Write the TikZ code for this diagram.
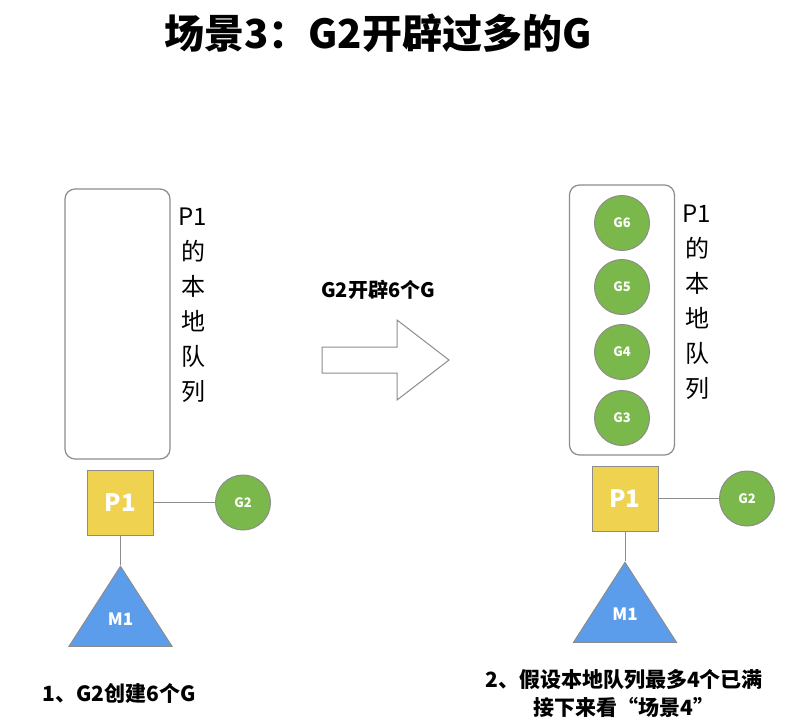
\documentclass[tikz,border=0pt]{standalone}
\usepackage{fontspec}
\setmainfont{Noto Sans CJK SC}
\usetikzlibrary{shapes.geometric,positioning}

\definecolor{pyellow}{HTML}{EFD24F}
\definecolor{ggreen}{HTML}{7BB84B}
\definecolor{mblue}{HTML}{5C9DEB}
\definecolor{edgegray}{HTML}{8C8C8C}

\tikzset{
  queue/.style={draw=edgegray, rectangle, rounded corners=10pt, minimum width=105pt, minimum height=270pt, line width=1.2pt},
  qlabel/.style={align=center, font=\fontsize{24}{35}\selectfont},
  pbox/.style={draw=edgegray, fill=pyellow, rectangle, minimum width=66pt, minimum height=65pt, text=white, font=\fontsize{24}{24}\selectfont\bfseries, line width=1pt},
  gnode/.style={draw=edgegray, fill=ggreen, circle, minimum size=55pt, inner sep=0pt, text=white, font=\fontsize{13}{13}\selectfont\bfseries, line width=1pt},
  mtri/.style={draw=edgegray, fill=mblue, isosceles triangle, isosceles triangle stretches, shape border rotate=90, minimum width=103pt, minimum height=80pt, inner sep=0pt, line width=1pt, anchor=apex},
  mlabel/.style={text=white, font=\fontsize{17}{17}\selectfont\bfseries},
  link/.style={draw=edgegray, line width=1pt},
  caption/.style={font=\fontsize{21}{28}\selectfont\bfseries, align=center}
}

\begin{document}
\begin{tikzpicture}[x=1pt, y=-1pt]
    \useasboundingbox (0,0) rectangle (807,728);

    % Title
    \node[font=\fontsize{40}{40}\selectfont\bfseries] (title) at (378,33) {场景3：G2开辟过多的G};

    % Left: before
    \node[queue] (lqueue) at (117.5,324) {};
    \node[qlabel] (lqtext) at (193,305) {P1\\的\\本\\地\\队\\列};
    \node[pbox] (lp) at (120.5,502.5) {P1};
    \node[gnode] (lg2) at (243,502.5) {G2};
    \node[mtri] (lm) at (120.5,565) {};
    \node[mlabel] (lmtext) at ([yshift=-54pt]lm.apex) {M1};

    % Right: after
    \node[queue] (rqueue) at (622,320) {};
    \node[qlabel] (rqtext) at (697,302) {P1\\的\\本\\地\\队\\列};
    \node[gnode] (g6) at (622,223) {G6};
    \node[gnode] (g5) at (622,287) {G5};
    \node[gnode] (g4) at (622,352) {G4};
    \node[gnode] (g3) at (622,418) {G3};
    \node[pbox] (rp) at (625,498.5) {P1};
    \node[gnode] (rg2) at (747,498.5) {G2};
    \node[mtri] (rm) at (625,561) {};
    \node[mlabel] (rmtext) at ([yshift=-53pt]rm.apex) {M1};

    % Links
    \draw[link] (lp) -- (lg2);
    \draw[link] (lp.south) -- (lm.apex);
    \draw[link] (rp) -- (rg2);
    \draw[link] (rp.south) -- (rm.apex);

    % Big arrow
    \draw[edgegray, fill=white, line width=1pt] (322,347) -- (397,347) -- (397,320) -- (449,360) -- (397,400) -- (397,373) -- (322,373) -- cycle;
    \node[font=\fontsize{20}{20}\selectfont\bfseries] (step) at (378,290) {G2开辟6个G};

    % Captions
    \node[caption] (cap1) at (119,693) {1、G2创建6个G};
    \node[caption] (cap2) at (624,694) {2、假设本地队列最多4个已满\\接下来看“场景4”};
\end{tikzpicture}
\end{document}
